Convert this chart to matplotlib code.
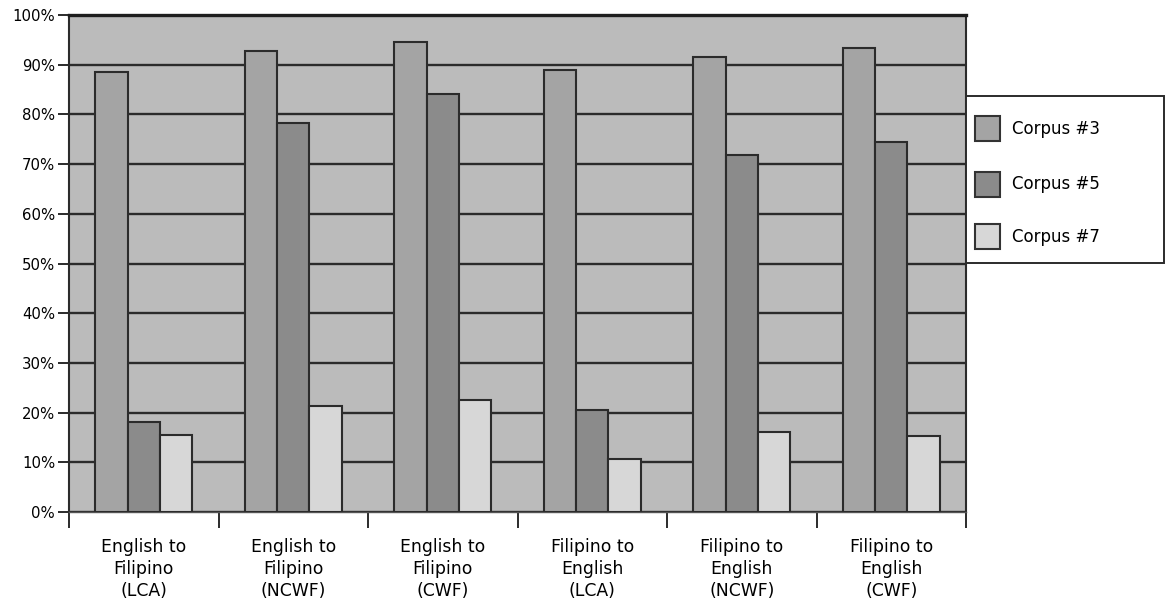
import matplotlib
matplotlib.use("Agg")
import matplotlib.pyplot as plt
from matplotlib.patches import Rectangle
import numpy as np

categories = ["English to\nFilipino\n(LCA)", "English to\nFilipino\n(NCWF)", "English to\nFilipino\n(CWF)",
              "Filipino to\nEnglish\n(LCA)", "Filipino to\nEnglish\n(NCWF)", "Filipino to\nEnglish\n(CWF)"]
series_names = ["Corpus #3", "Corpus #5", "Corpus #7"]
corpus3 = [88.5, 92.8, 94.5, 88.9, 91.6, 93.3]
corpus5 = [18.1, 78.2, 84.1, 20.6, 71.9, 74.4]
corpus7 = [15.4, 21.3, 22.5, 10.7, 16.0, 15.3]
yticks = [0, 10, 20, 30, 40, 50, 60, 70, 80, 90, 100]
ytick_labels = ["0%", "10%", "20%", "30%", "40%", "50%", "60%", "70%", "80%", "90%", "100%"]

colors = ["#a4a4a4", "#8b8b8b", "#d7d7d7"]
edge = "#2b2b2b"
W, H = 1165, 605

plt.rcParams['font.family'] = ['DejaVu Sans']
fig = plt.figure(figsize=(W / 100, H / 100), dpi=100)
ax = fig.add_axes([69 / W, 1 - 512 / H, (966 - 69) / W, (512 - 15) / H])
ax.set_facecolor("#bbbbbb")

x = np.arange(len(categories))
bw = 0.216
for i, vals in enumerate([corpus3, corpus5, corpus7]):
    ax.bar(x + (i - 1) * bw, vals, width=bw, color=colors[i], edgecolor=edge,
           linewidth=1.5, zorder=3)

ax.set_xlim(-0.5, len(categories) - 0.5)
ax.set_ylim(0, 100)
ax.set_yticks(yticks)
ax.set_yticklabels(ytick_labels, fontsize=10.7)
ax.yaxis.grid(True, color=edge, linewidth=1.7, zorder=1)
ax.set_axisbelow(True)
ax.tick_params(axis='y', length=8, width=1.4, color=edge, pad=2)

ax.set_xticks(x)
ax.set_xticklabels(categories, fontsize=12.4, linespacing=1.28)
ax.tick_params(axis='x', which='major', length=0, pad=19)
ax.set_xticks(np.arange(-0.5, len(categories), 1.0), minor=True)
ax.tick_params(axis='x', which='minor', length=11.5, width=1.4, color=edge)

for s in ['left', 'right']:
    ax.spines[s].set_color(edge)
    ax.spines[s].set_linewidth(1.5)
ax.spines['top'].set_color("#1e1e1e")
ax.spines['top'].set_linewidth(2.4)
ax.spines['bottom'].set_color("#555555")
ax.spines['bottom'].set_linewidth(1.0)

# Legend (drawn in figure pixel coordinates)
def fx(px):
    return px / W

def fy(py):
    return 1 - py / H

fig.add_artist(Rectangle((fx(966), fy(263)), fx(1164) - fx(966), fy(96) - fy(263),
                         transform=fig.transFigure, facecolor="white", edgecolor=edge,
                         linewidth=1.4, zorder=5))
centers = [128.5, 184, 236.7]
for name, c, cy in zip(series_names, colors, centers):
    fig.add_artist(Rectangle((fx(975), fy(cy + 12.5)), 25 / W, 25 / H,
                             transform=fig.transFigure, facecolor=c, edgecolor="#333333",
                             linewidth=1.5, zorder=6))
    fig.text(fx(1011.5), fy(cy), name, fontsize=12, va='center', ha='left', zorder=7)

fig.savefig("out.png", dpi=100)
